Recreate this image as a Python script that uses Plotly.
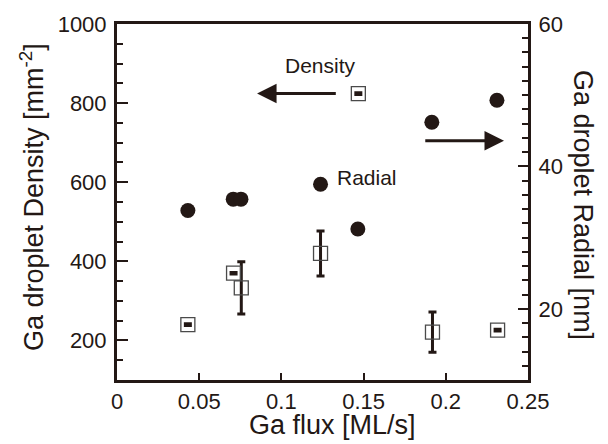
import plotly.graph_objects as go

INK = "#231815"
FONT = "Liberation Sans, Arial, sans-serif"

# Density data (left axis)
dens_flux = [0.0431, 0.0709, 0.0756, 0.1238, 0.1468, 0.1919, 0.2315]
dens_val = [240, 370, 333, 420, 824, 221, 226]
dens_err = [2, 2, 66, 57, 2, 51, 2]

# Radial data (right axis)
rad_flux = [0.0431, 0.0707, 0.0754, 0.1238, 0.1465, 0.1915, 0.2311]
rad_val = [33.8, 35.4, 35.4, 37.5, 31.2, 46.2, 49.3]

fig = go.Figure()

fig.add_trace(go.Scatter(
    x=dens_flux, y=dens_val, mode="markers", yaxis="y",
    marker=dict(symbol="square-open", size=14, color="#4a4a4a", line=dict(width=1.3)),
    error_y=dict(type="data", array=dens_err, visible=True, color=INK, thickness=3, width=4),
    showlegend=False,
))

fig.add_trace(go.Scatter(
    x=rad_flux, y=rad_val, mode="markers", yaxis="y2",
    marker=dict(symbol="circle", size=15, color=INK),
    showlegend=False,
))

axis_common = dict(
    showline=True, linewidth=3, linecolor=INK, ticks="inside", tickcolor=INK,
    tickwidth=2, showgrid=False, zeroline=False, automargin=False,
    tickfont=dict(family=FONT, size=22, color=INK),
)

fig.update_layout(
    width=600, height=436,
    margin=dict(l=109, r=80, t=16, b=64),
    paper_bgcolor="white", plot_bgcolor="white",
    xaxis=dict(range=[0, 0.25], dtick=0.05, tick0=0, ticklen=7, mirror=True, **axis_common),
    yaxis=dict(range=[100, 1000], dtick=200, tick0=0, ticklen=11, ticklabelstandoff=3,
               minor=dict(dtick=50, ticklen=6, ticks="inside", tickcolor=INK, tickwidth=2),
               **axis_common),
    yaxis2=dict(range=[10, 60], dtick=20, tick0=0, ticklen=10, overlaying="y", side="right",
                ticklabelstandoff=3,
                minor=dict(dtick=2, ticklen=6, ticks="inside", tickcolor=INK, tickwidth=2),
                **axis_common),
    annotations=[
        dict(text="Ga flux [ML/s]", xref="paper", yref="paper", x=0.5255, y=0, yshift=-45,
             showarrow=False, xanchor="center", yanchor="middle",
             font=dict(family=FONT, size=27, color=INK)),
        dict(text="Ga droplet Density [mm<sup>-2</sup>]", xref="paper", yref="paper", x=0, xshift=-85,
             y=0.514, textangle=-90, showarrow=False, xanchor="center", yanchor="middle",
             font=dict(family=FONT, size=27, color=INK)),
        dict(text="Ga droplet Radial [nm]", xref="paper", yref="paper", x=1, xshift=55,
             y=0.4916, textangle=90, showarrow=False, xanchor="center", yanchor="middle",
             font=dict(family=FONT, size=27, color=INK)),
        dict(text="Density", x=0.1238, y=894, xref="x", yref="y", showarrow=False,
             font=dict(family=FONT, size=21, color=INK)),
        dict(text="Radial", x=0.1523, y=613, xref="x", yref="y", showarrow=False,
             font=dict(family=FONT, size=21, color=INK)),
        dict(text="", x=0.0852, y=824.6, xref="x", yref="y", ax=0.134, ay=824.6,
             axref="x", ayref="y", showarrow=True, arrowhead=2, arrowsize=1.3,
             arrowwidth=3, arrowcolor=INK),
        dict(text="", x=0.2354, y=704.6, xref="x", yref="y", ax=0.1866, ay=704.6,
             axref="x", ayref="y", showarrow=True, arrowhead=2, arrowsize=1.3,
             arrowwidth=3, arrowcolor=INK),
    ],
)

fig.write_html("out.html")
